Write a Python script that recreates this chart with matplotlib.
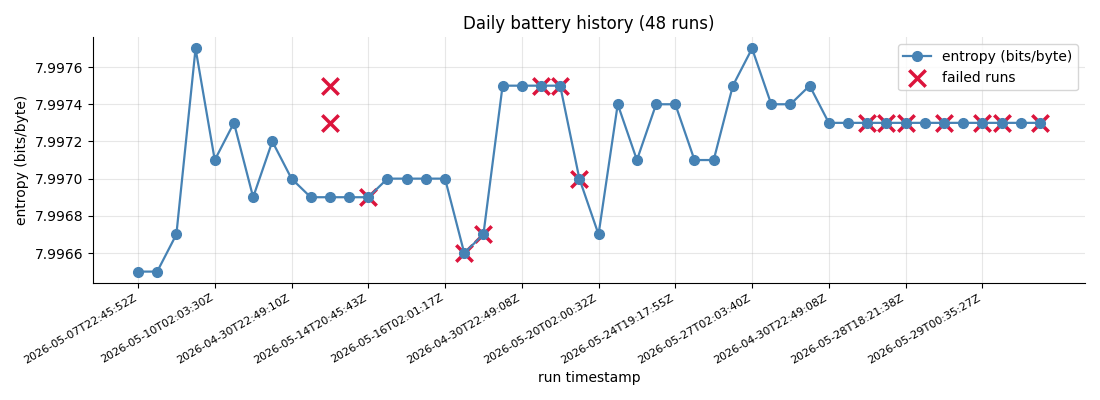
import matplotlib
matplotlib.use("Agg")
import matplotlib.pyplot as plt
from matplotlib.ticker import FormatStrFormatter

# entropy per run, in run order
entropy = [7.9965, 7.9965, 7.9967, 7.9977, 7.9971, 7.9973, 7.9969, 7.9972,
           7.9970, 7.9969, 7.9969, 7.9969, 7.9969, 7.9970, 7.9970, 7.9970,
           7.9970, 7.9966, 7.9967, 7.9975, 7.9975, 7.9975, 7.9975, 7.9970,
           7.9967, 7.9974, 7.9971, 7.9974, 7.9974, 7.9971, 7.9971, 7.9975,
           7.9977, 7.9974, 7.9974, 7.9975, 7.9973, 7.9973, 7.9973, 7.9973,
           7.9973, 7.9973, 7.9973, 7.9973, 7.9973, 7.9973, 7.9973, 7.9973]

# failed runs (run index, entropy)
failed_idx = [10, 10, 12, 17, 18, 21, 22, 23, 38, 39, 40, 42, 44, 45, 47]
failed_val = [7.9975, 7.9973, 7.9969, 7.9966, 7.9967, 7.9975, 7.9975, 7.9970,
              7.9973, 7.9973, 7.9973, 7.9973, 7.9973, 7.9973, 7.9973]

# every 4th run gets a label
tick_idx = [0, 4, 8, 12, 16, 20, 24, 28, 32, 36, 40, 44]
tick_labels = ["2026-05-07T22:45:52Z", "2026-05-10T02:03:30Z", "2026-04-30T22:49:10Z",
               "2026-05-14T20:45:43Z", "2026-05-16T02:01:17Z", "2026-04-30T22:49:08Z",
               "2026-05-20T02:00:32Z", "2026-05-24T19:17:55Z", "2026-05-27T02:03:40Z",
               "2026-04-30T22:49:08Z", "2026-05-28T18:21:38Z", "2026-05-29T00:35:27Z"]

fig, ax = plt.subplots(figsize=(11, 4), dpi=100)

ax.plot(range(len(entropy)), entropy, marker='o', color='steelblue',
        linewidth=1.6, markersize=7, label='entropy (bits/byte)')
# scatter stays under the line markers
ax.scatter(failed_idx, failed_val, marker='x', color='crimson', s=140,
           linewidths=2.5, label='failed runs')

ax.set_xticks(tick_idx)
ax.set_xticklabels(tick_labels, rotation=30, ha='right', fontsize=8)
ax.yaxis.set_major_formatter(FormatStrFormatter('%.4f'))

ax.set_title('Daily battery history (48 runs)')
ax.set_xlabel('run timestamp')
ax.set_ylabel('entropy (bits/byte)')
ax.grid(True, alpha=0.3)
ax.spines['top'].set_visible(False)
ax.spines['right'].set_visible(False)
ax.legend(loc='upper right')

plt.tight_layout()
plt.savefig('out.png')
plt.close('all')
